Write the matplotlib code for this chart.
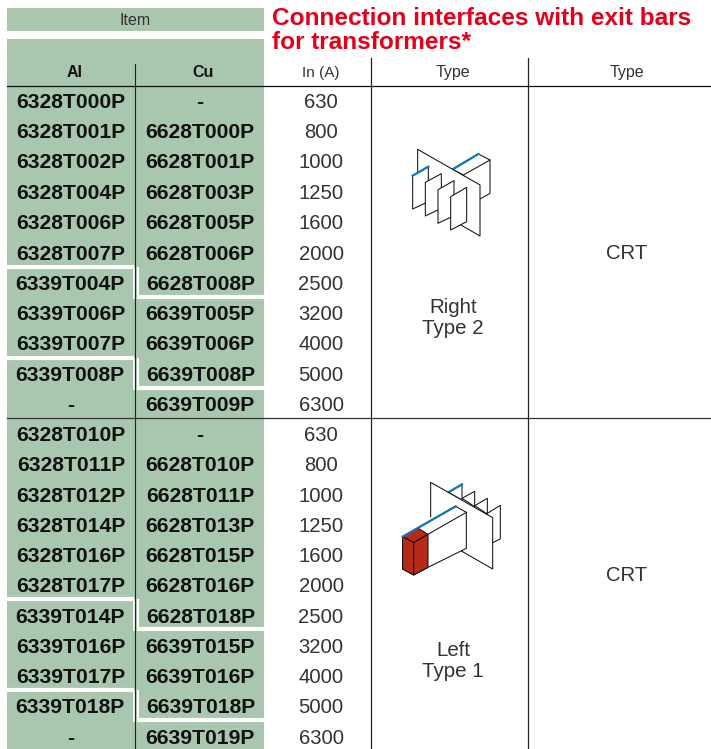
"""Connection interfaces table with exit bars for transformers."""
import matplotlib
matplotlib.use("Agg")
import matplotlib.pyplot as plt
from matplotlib.patches import Polygon, Rectangle

al_codes = [
    "6328T000P", "6328T001P", "6328T002P", "6328T004P", "6328T006P", "6328T007P",
    "6339T004P", "6339T006P", "6339T007P", "6339T008P", "-",
    "6328T010P", "6328T011P", "6328T012P", "6328T014P", "6328T016P", "6328T017P",
    "6339T014P", "6339T016P", "6339T017P", "6339T018P", "-",
]
cu_codes = [
    "-", "6628T000P", "6628T001P", "6628T003P", "6628T005P", "6628T006P",
    "6628T008P", "6639T005P", "6639T006P", "6639T008P", "6639T009P",
    "-", "6628T010P", "6628T011P", "6628T013P", "6628T015P", "6628T016P",
    "6628T018P", "6639T015P", "6639T016P", "6639T018P", "6639T019P",
]
currents = [630, 800, 1000, 1250, 1600, 2000, 2500, 3200, 4000, 5000, 6300] * 2

GREEN = "#a9c7ae"
INK = "#111111"
DARK = "#333333"
BLUE = "#0f75bc"
RED = "#b72a17"
PLAIN = {"family": "Liberation Sans"}
BOLD = {"family": "Liberation Sans", "fontweight": "bold"}

row_y = [101, 131, 161, 192, 222, 253, 283, 313, 343, 374, 404,
         434, 464, 495, 525, 555, 585, 616, 646, 676, 706, 737]
shifted_rows = (6, 9, 17, 20)

fig = plt.figure(figsize=(7.11, 7.49), dpi=100)
ax = fig.add_axes([0, 0, 1, 1])
ax.set_xlim(0, 711)
ax.set_ylim(749, 0)
ax.axis("off")

# green background
ax.add_patch(Rectangle((7, 8), 257, 23, fc=GREEN, ec="none"))
ax.add_patch(Rectangle((7, 39), 257, 710, fc=GREEN, ec="none"))

# white steps where the code families change
for off in (0, 332):
    for y_al, y_cu in ((267, 297), (358, 388)):
        ax.plot([7, 134], [y_al + off, y_al + off], color="white", lw=3, solid_capstyle="butt")
        ax.plot([137, 264], [y_cu + off, y_cu + off], color="white", lw=3, solid_capstyle="butt")
        ax.plot([133.5, 133.5], [y_al + off, y_cu + 2 + off], color="white", lw=1.3, solid_capstyle="butt")
        ax.plot([137.5, 137.5], [y_al + off, y_cu + 2 + off], color="white", lw=1.5, solid_capstyle="butt")

# rules
ax.plot([7, 711], [85.5, 85.5], color="#111111", lw=0.9)
ax.plot([7, 711], [418, 418], color="#333333", lw=0.9)
ax.plot([135, 135], [64, 749], color="#222222", lw=0.8)
ax.plot([371, 371], [58, 749], color="#222222", lw=0.9)
ax.plot([528, 528], [58, 749], color="#222222", lw=0.9)

# headers
ax.text(135, 25, "Item", ha="center", va="baseline", fontsize=11.5, color=DARK, **PLAIN)
ax.text(75, 77, "Al", ha="center", va="baseline", fontsize=11.5, color=INK, **BOLD)
ax.text(203, 77, "Cu", ha="center", va="baseline", fontsize=11.5, color=INK, **BOLD)
ax.text(321, 77, "In (A)", ha="center", va="baseline", fontsize=11, color=DARK, **PLAIN)
ax.text(453, 77, "Type", ha="center", va="baseline", fontsize=11.5, color=DARK, **PLAIN)
ax.text(627, 77, "Type", ha="center", va="baseline", fontsize=11.5, color=DARK, **PLAIN)

# title
ax.text(272, 25, "Connection interfaces with exit bars", ha="left", va="baseline",
        fontsize=17.55, color="#e2001a", **BOLD)
ax.text(272, 49, "for transformers*", ha="left", va="baseline",
        fontsize=17.55, color="#e2001a", **BOLD)

# table rows
for i, (y, al, cu, cur) in enumerate(zip(row_y, al_codes, cu_codes, currents)):
    shift = 1 if i in shifted_rows else 0
    ax.text(71 - shift, y + 7, al, ha="center", va="baseline", fontsize=15.2, color=INK, **BOLD)
    ax.text(200 + shift, y + 7, cu, ha="center", va="baseline", fontsize=15.2, color=INK, **BOLD)
    ax.text(321, y + 7, str(cur), ha="center", va="baseline", fontsize=14.6, color=DARK, **PLAIN)

ax.text(453, 313, "Right", ha="center", va="baseline", fontsize=14.8, color=DARK, **PLAIN)
ax.text(453, 334, "Type 2", ha="center", va="baseline", fontsize=14.8, color=DARK, **PLAIN)
ax.text(453, 656, "Left", ha="center", va="baseline", fontsize=14.8, color=DARK, **PLAIN)
ax.text(453, 677, "Type 1", ha="center", va="baseline", fontsize=14.8, color=DARK, **PLAIN)
ax.text(627, 259, "CRT", ha="center", va="baseline", fontsize=14.6, color=DARK, **PLAIN)
ax.text(627, 581, "CRT", ha="center", va="baseline", fontsize=14.6, color=DARK, **PLAIN)


def shape(x0, y0, pts, fc="white", z=3, closed=True):
    """Icon polygon from coordinates in 3x-zoomed crop pixels."""
    xy = [(x0 + px / 3, y0 + py / 3) for px, py in pts]
    ax.add_patch(Polygon(xy, closed=closed, fc=fc, ec="#111111", lw=0.75, zorder=z, joinstyle="round"))


def seg(x0, y0, pts, color="#111111", lw=0.75, z=3):
    ax.plot([x0 + p[0] / 3 for p in pts], [y0 + p[1] / 3 for p in pts], color=color, lw=lw, zorder=z)


# icon for right type 2
x0, y0 = 370, 130
shape(x0, y0, [(248, 118), (325, 72), (360, 90), (360, 190), (330, 207), (280, 135)], z=3)
seg(x0, y0, [(280, 135), (360, 90)], z=3)
seg(x0, y0, [(248, 118), (325, 72)], color=BLUE, lw=1.6, z=3)
shape(x0, y0, [(143, 58), (330, 165), (330, 318), (143, 210)], z=4)
for i, pts in enumerate([
    [(128, 137), (175, 110), (175, 215), (128, 237)],
    [(166, 157), (214, 131), (214, 235), (166, 258)],
    [(204, 179), (252, 152), (252, 257), (204, 280)],
    [(242, 200), (290, 172), (290, 275), (242, 300)],
]):
    shape(x0, y0, pts, z=5 + i)
seg(x0, y0, [(128, 137), (175, 110)], color=BLUE, lw=1.6, z=10)
# hide the plate's lower left edge, only its outline near the fins shows
seg(x0, y0, [(143, 130), (143, 215), (245, 270)], color="white", lw=1.6, z=4.5)

# icon for left type 1
x0, y0 = 370, 470
for pts in ([(235, 67), (276, 43), (276, 90)], [(276, 85), (314, 64), (314, 110)],
            [(314, 107), (352, 85), (352, 132)], [(352, 130), (391, 106), (391, 207), (368, 218)]):
    shape(x0, y0, pts, z=3)
seg(x0, y0, [(235, 67), (276, 43)], color=BLUE, lw=1.6, z=3.5)
shape(x0, y0, [(182, 37), (368, 143), (368, 297), (182, 190)], z=4)
seg(x0, y0, [(182, 145), (182, 195), (262, 236)], color="white", lw=1.6, z=4.5)
shape(x0, y0, [(98, 200), (257, 109), (289, 127), (289, 235), (174, 292), (131, 315), (98, 297)], z=5)
seg(x0, y0, [(174, 193), (289, 127)], z=6)
shape(x0, y0, [(98, 200), (145, 175), (174, 193), (131, 218)], fc=RED, z=6)
shape(x0, y0, [(98, 200), (131, 218), (131, 315), (98, 297)], fc=RED, z=6)
shape(x0, y0, [(131, 218), (174, 193), (174, 292), (131, 315)], fc=RED, z=6)
seg(x0, y0, [(98, 200), (257, 109)], color=BLUE, lw=1.6, z=7)

fig.savefig("out.png", dpi=100)
